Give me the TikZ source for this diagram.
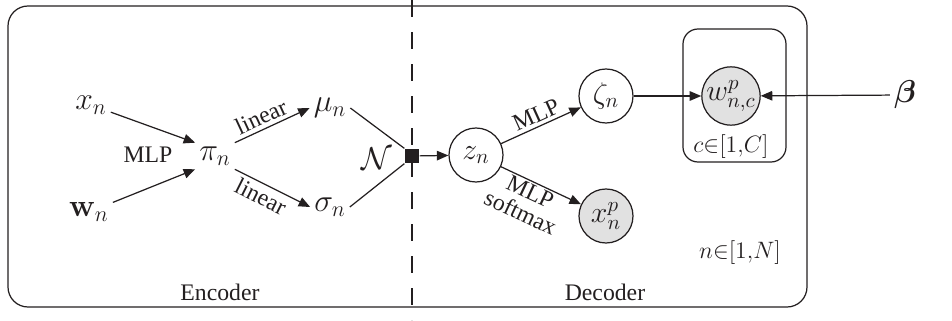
\RequirePackage{fix-cm}
\documentclass[tikz,border=0pt]{standalone}
\usepackage{amsmath}
\usepackage[no-math]{fontspec}
\setmainfont{Liberation Serif}
\usetikzlibrary{arrows.meta}
\definecolor{ink}{RGB}{35,31,32}
\definecolor{obsgray}{RGB}{225,225,225}

\begin{document}
\begin{tikzpicture}[ink, line width=0.7pt,
    var/.style={font=\fontsize{18}{21}\selectfont, inner sep=2pt},
    lbl/.style={font=\fontsize{13.5}{13}\selectfont, inner sep=2pt},
    circ/.style={font=\fontsize{17}{20}\selectfont, circle, draw, minimum size=1.08cm, inner sep=0pt},
    obs/.style={fill=obsgray},
    sq/.style={fill=ink, minimum size=0.28cm, inner sep=0pt},
    arr/.style={-{Triangle[length=0.23cm,width=0.19cm]}}]
      \useasboundingbox (0,0) rectangle (19.04,6.4);
      % plates
      \draw[rounded corners=0.4cm] (0.16,0.26) rectangle (16.14,6.28);
      \draw[rounded corners=0.3cm] (13.66,3.16) rectangle (15.72,5.82);
      \draw[dash pattern=on 0.34cm off 0.3cm] (8.24,6.4) -- (8.24,0);
      % encoder
      \node[var] (x) at (1.82,4.3) {$x_n$};
      \node[var] (w) at (1.78,2.16) {$\mathbf{w}_n$};
      \node[lbl] (mlp) at (2.96,3.3) {MLP};
      \node[var] (pi) at (4.3,3.28) {$\pi_n$};
      \node[var] (mu) at (6.6,4.24) {$\mu_n$};
      \node[var] (sigma) at (6.6,2.26) {$\sigma_n$};
      \node[var] (gauss) at (7.54,3.22) {$\mathcal{N}$};
      \node[sq] (sq) at (8.24,3.28) {};
      \node[lbl] (enc) at (4.4,0.56) {Encoder};
      % decoder
      \node[circ] (z) at (9.52,3.3) {$z_n$};
      \node[circ] (zeta) at (12.12,4.48) {$\zeta_n$};
      \node[circ,obs] (xp) at (12.12,2.08) {$x^p_n$};
      \node[circ,obs] (wp) at (14.62,4.48) {$w^p_{n,c}$};
      \node[var] (beta) at (18.1,4.5) {$\boldsymbol{\beta}$};
      \node[lbl] (cC) at (14.62,3.46) {$c{\in}[1{,}C]$};
      \node[lbl] (nN) at (14.8,1.34) {$n{\in}[1{,}N]$};
      \node[lbl] (dec) at (12.1,0.56) {Decoder};
      % edges
      \draw[arr] (x) -- (pi.north west);
      \draw[arr] (w) -- (pi.south west);
      \draw[arr] (pi.north east) -- node[lbl,pos=0.42,above,sloped] {linear} (mu.west);
      \draw[arr] (pi.south east) -- node[lbl,pos=0.42,below,sloped] {linear} (sigma.west);
      \draw (mu.east) -- (sq.north west);
      \draw (sigma.east) -- (sq.south west);
      \draw[arr] (sq) -- (z);
      \draw[arr] (z) -- node[lbl,above,sloped] {MLP} (zeta);
      \draw[arr] (z) -- node[lbl,pos=0.42,below,sloped,align=center,inner sep=1pt] {MLP\\softmax} (xp);
      \draw[arr] (zeta) -- (wp);
      \draw[arr] (beta) -- (wp);
\end{tikzpicture}
\end{document}
